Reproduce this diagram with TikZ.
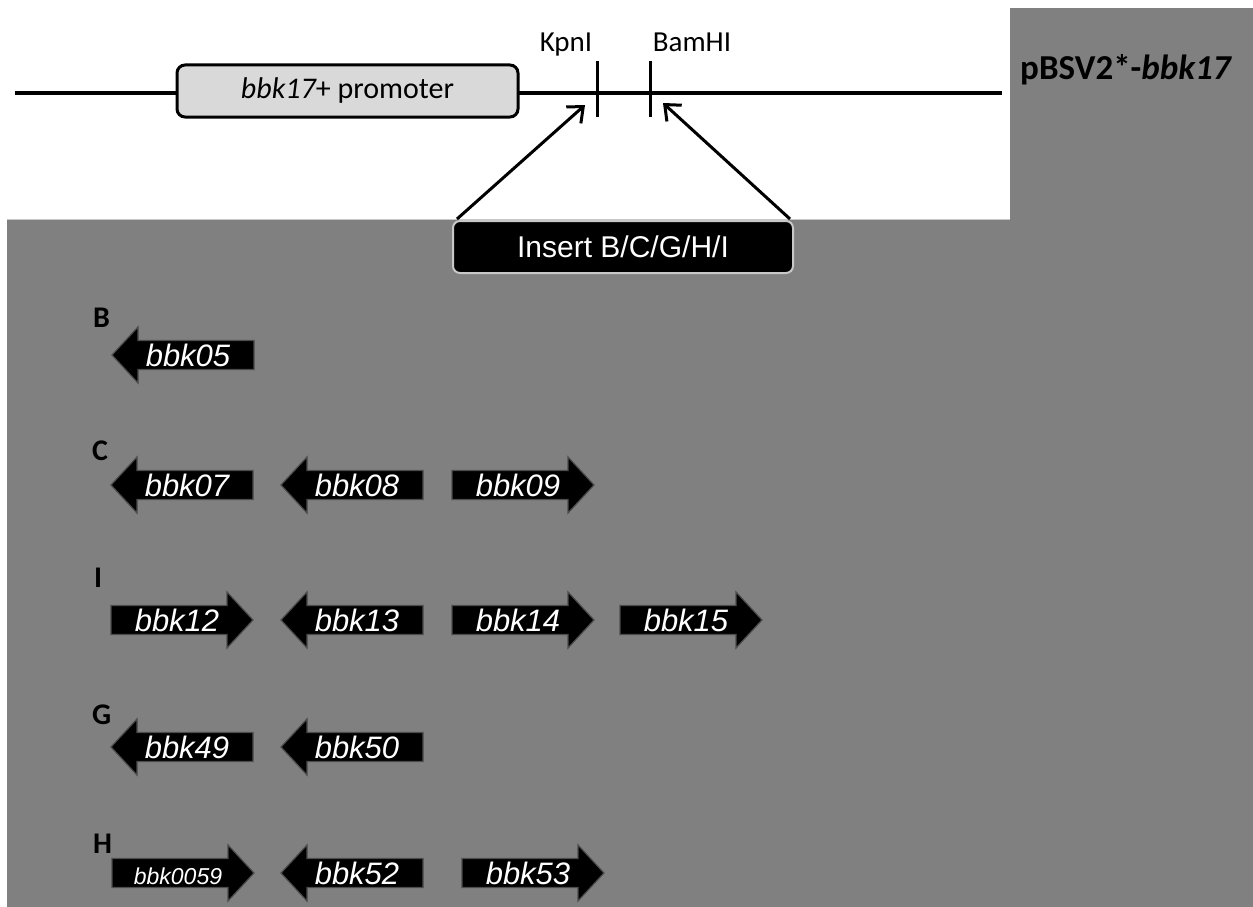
\documentclass[tikz,border=0pt]{standalone}
\usepackage{fontspec}
\usetikzlibrary{arrows.meta}
\newfontfamily\calfont{Carlito}
\newfontfamily\arfont{Liberation Sans}
\definecolor{bggray}{RGB}{128,128,128}
\definecolor{promofill}{RGB}{217,217,217}
\definecolor{edgegray}{RGB}{200,200,200}
\tikzset{
  genefill/.style={fill=black, draw=black!70, line width=1.2pt, line join=miter},
  genetext/.style={anchor=base, inner sep=0pt, text=white, font=\arfont\itshape\fontsize{31}{31}\selectfont},
  smalltext/.style={anchor=base, inner sep=0pt, text=white, font=\arfont\itshape\fontsize{23}{23}\selectfont},
  rowlabel/.style={anchor=base west, inner sep=0pt, font=\calfont\bfseries\fontsize{30}{30}\selectfont},
  sitelabel/.style={anchor=base, inner sep=0pt, font=\calfont\fontsize{29}{29}\selectfont},
  promobox/.style={draw=black, line width=3pt, fill=promofill, rounded corners=8pt, minimum width=341pt, minimum height=52pt, inner sep=0pt, font=\calfont\fontsize{30}{30}\selectfont},
  insbox/.style={draw=edgegray, line width=2pt, fill=black, rounded corners=7pt, minimum width=340pt, minimum height=52pt, inner sep=0pt, text=white, font=\arfont\fontsize{30}{30}\selectfont},
  mainline/.style={line width=3.5pt},
  tickline/.style={line width=3pt},
  pointer/.style={line width=3pt, -{Straight Barb[length=13pt, width=22pt, line width=3pt]}}
}
\newcommand\geneL[5]{% name, tip x, centre y, style, text
  \fill[genefill] (#2,#3) -- ++(26,-28) -- ++(0,13.5) -- ++(116,0) -- ++(0,29) -- ++(-116,0) -- ++(0,13.5) -- cycle;
  \node[#4] (#1) at (#2+76,#3+11) {#5};}
\newcommand\geneR[5]{% name, left x, centre y, style, text
  \fill[genefill] (#2,#3-14.5) -- ++(116,0) -- ++(0,-13.5) -- ++(26,28) -- ++(-26,28) -- ++(0,-13.5) -- ++(-116,0) -- cycle;
  \node[#4] (#1) at (#2+66,#3+11) {#5};}
\begin{document}
\begin{tikzpicture}[x=1pt, y=-1pt]
  \useasboundingbox (0,0) rectangle (1253,907);
  \fill[white] (0,0) rectangle (1253,907);
  % grey background
  \fill[bggray] (7,220) rectangle (1253,907);
  \fill[bggray] (1010,8) rectangle (1253,220);
  \draw[edgegray, line width=1.5pt] (7,219.5) -- (1010,219.5);
  % main line
  \coordinate (L0) at (15,93);
  \coordinate (L1) at (1002,93);
  \draw[mainline] (L0) -- (L1);
  \node[promobox] (prom) at (347.5,91) {\itshape bbk17\upshape+ promoter};
  % restriction sites
  \coordinate (kt) at (597,61);
  \coordinate (kb) at (597,117);
  \coordinate (bt) at (650,61);
  \coordinate (bb) at (650,117);
  \draw[tickline] (kt) -- (kb);
  \draw[tickline] (bt) -- (bb);
  \node[sitelabel] (kpn) at (566,52) {KpnI};
  \node[sitelabel] (bam) at (692,52) {BamHI};
  \node[anchor=base west, inner sep=0pt, font=\calfont\bfseries\fontsize{35}{35}\selectfont] (title) at (1020,80) {pBSV2*-\itshape bbk17};
  % insert box and pointers
  \node[insbox] (ins) at (623,247) {Insert B/C/G/H/I};
  \coordinate (ka) at (585,105);
  \coordinate (ba) at (663,103);
  \coordinate (is) at (457,219);
  \coordinate (ie) at (790,219);
  \draw[pointer] (is) -- (ka);
  \draw[pointer] (ie) -- (ba);
  % row labels
  \node[rowlabel] (lb) at (93,327) {B};
  \node[rowlabel] (lc) at (92,460) {C};
  \node[rowlabel] (li) at (94,587) {I};
  \node[rowlabel] (lg) at (92,724) {G};
  \node[rowlabel] (lh) at (93,853) {H};
  % genes
  \geneL{g05}{112}{355}{genetext}{bbk05}
  \geneL{g07}{111}{485}{genetext}{bbk07}
  \geneL{g08}{281}{485}{genetext}{bbk08}
  \geneR{g09}{452}{485}{genetext}{bbk09}
  \geneR{g12}{111}{620}{genetext}{bbk12}
  \geneL{g13}{281}{620}{genetext}{bbk13}
  \geneR{g14}{452}{620}{genetext}{bbk14}
  \geneR{g15}{620}{620}{genetext}{bbk15}
  \geneL{g49}{111}{747}{genetext}{bbk49}
  \geneL{g50}{281}{747}{genetext}{bbk50}
  \geneR{g59}{112}{873}{smalltext}{bbk0059}
  \geneL{g52}{281}{873}{genetext}{bbk52}
  \geneR{g53}{462}{873}{genetext}{bbk53}
\end{tikzpicture}
\end{document}
